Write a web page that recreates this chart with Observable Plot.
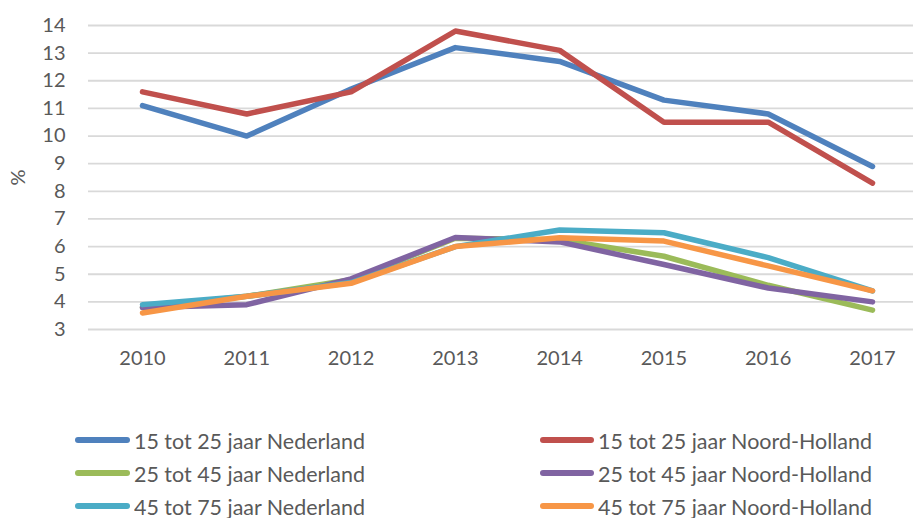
<!DOCTYPE html>
<html><head><meta charset="utf-8">
<script src="https://cdn.jsdelivr.net/npm/d3@7"></script>
<script src="https://cdn.jsdelivr.net/npm/@observablehq/plot@0.6"></script>
<style>
body{margin:0;background:#fff;font-family:Lato,"Open Sans",sans-serif;color:#595959}
#legend{position:relative;height:98px;width:913px}
.item{position:absolute;display:flex;align-items:center;height:30px;font-size:21px;color:#595959;white-space:nowrap}
.sw{height:6px;border-radius:3px;margin-right:4px}
.lbl{display:inline-block;transform-origin:0 50%}
</style></head>
<body>
<div id="chart"></div>
<div id="legend"></div>
<script>
const years = [2010, 2011, 2012, 2013, 2014, 2015, 2016, 2017];
const seriesNames = [
  "15 tot 25 jaar Nederland",
  "15 tot 25 jaar Noord-Holland",
  "25 tot 45 jaar Nederland",
  "25 tot 45 jaar Noord-Holland",
  "45 tot 75 jaar Nederland",
  "45 tot 75 jaar Noord-Holland"
];
const v15NL = [11.1, 10.0, 11.7, 13.2, 12.7, 11.3, 10.8, 8.9];
const v15NH = [11.6, 10.8, 11.6, 13.8, 13.1, 10.5, 10.5, 8.3];
const v25NL = [3.8, 4.2, 4.8, 6.3, 6.25, 5.65, 4.6, 3.7];
const v25NH = [3.8, 3.9, 4.83, 6.33, 6.17, 5.35, 4.5, 4.0];
const v45NL = [3.9, 4.2, 4.7, 6.0, 6.6, 6.5, 5.6, 4.4];
const v45NH = [3.6, 4.2, 4.67, 6.0, 6.32, 6.2, 5.3, 4.4];
const colors = ["#4F81BD", "#C0504D", "#9BBB59", "#8064A2", "#4BACC6", "#F79646"];
const yTicks = [3, 4, 5, 6, 7, 8, 9, 10, 11, 12, 13, 14];

const allValues = [v15NL, v15NH, v25NL, v25NH, v45NL, v45NH];
const data = [];
allValues.forEach((vals, i) => vals.forEach((v, j) => data.push({series: seriesNames[i], year: years[j], value: v})));

const plot = Plot.plot({
  width: 913,
  height: 420,
  marginLeft: 88,
  marginRight: 0,
  marginTop: 0,
  marginBottom: 0,
  style: {fontFamily: 'Lato, "Open Sans", sans-serif', fontSize: "20px", color: "#595959", background: "#fff"},
  x: {type: "linear", domain: [2010, 2017], range: [142, 872], axis: null},
  y: {domain: [3, 14], range: [329, 25], axis: null},
  color: {domain: seriesNames, range: colors},
  marks: [
    Plot.gridY(yTicks, {stroke: "#d9d9d9", strokeOpacity: 1, strokeWidth: 1.8}),
    Plot.text(yTicks, {x: 2010, y: d => d, text: d => String(d), textAnchor: "end", dx: -77, fill: "#595959", fontSize: 20}),
    Plot.text(years, {x: d => d, y: 3, text: d => String(d), dy: 29, fill: "#595959", fontSize: 20}),
    Plot.text(["%"], {x: 2010, y: 8.5, text: d => d, rotate: -90, dx: -124, fill: "#595959", fontSize: 20}),
    Plot.line(data, {x: "year", y: "value", z: "series", stroke: "series", strokeWidth: 5.5, strokeLinecap: "round", strokeLinejoin: "round"})
  ]
});
document.getElementById("chart").appendChild(plot);

const legend = document.getElementById("legend");
const legendCols = [{left: 75, sw: 55, textWidth: 231}, {left: 540, sw: 54, textWidth: 274}];
seriesNames.forEach((name, i) => {
  const col = legendCols[i % 2], row = Math.floor(i / 2);
  const el = document.createElement("div");
  el.className = "item";
  el.style.left = col.left + "px";
  el.style.top = (5 + row * 33) + "px";
  el.innerHTML = `<div class="sw" style="width:${col.sw}px;background:${colors[i]}"></div><span class="lbl">${name}</span>`;
  legend.appendChild(el);
  const span = el.querySelector(".lbl");
  const w = span.getBoundingClientRect().width;
  if (w > 0) span.style.transform = `scaleX(${col.textWidth / w})`;
});
</script>
</body></html>
